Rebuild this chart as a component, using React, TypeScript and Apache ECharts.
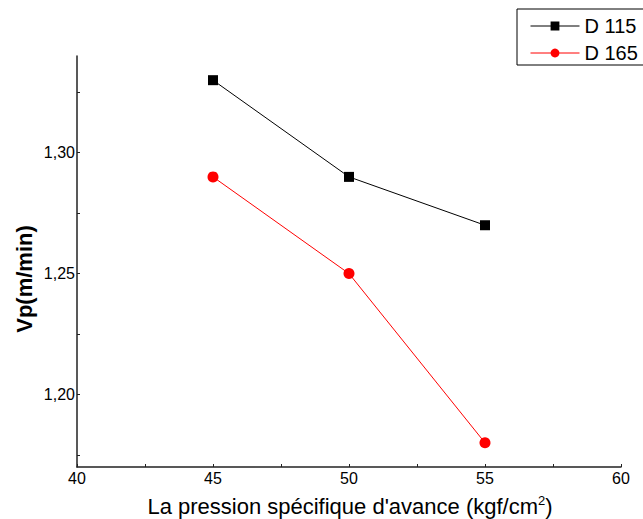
import React, { useEffect, useRef } from "react";
import * as echarts from "echarts";

const xValues = [45, 50, 55];
const d115 = [1.33, 1.29, 1.27];
const d165 = [1.29, 1.25, 1.18];
const yLabelValues = [1.2, 1.25, 1.3];
const yTickValues = [1.175, 1.2, 1.225, 1.25, 1.275, 1.3, 1.325];

const FONT = "Liberation Sans, Arial, sans-serif";

export default function App() {
  const ref = useRef<HTMLDivElement>(null);
  useEffect(() => {
    if (!ref.current) return;
    const chart = echarts.init(ref.current, null, { renderer: "svg" });
    chart.setOption({
      animation: false,
      backgroundColor: "#fff",
      grid: { left: 77, right: 22, top: 56, bottom: 52, containLabel: false },
      legend: {
        orient: "vertical",
        left: 517,
        top: 9,
        padding: [7, 10, 2, 13],
        borderColor: "#000",
        borderWidth: 1,
        backgroundColor: "#fff",
        itemWidth: 49,
        itemHeight: 11,
        itemGap: 7,
        itemTextGap: 6,
        lineStyle: { width: 1 },
        textStyle: { fontFamily: FONT, fontSize: 20, color: "#000" },
        data: ["D 115", "D 165"],
      },
      xAxis: {
        type: "value",
        min: 40,
        max: 60,
        interval: 5,
        axisLine: { show: true, lineStyle: { color: "#222", width: 1.5 } },
        axisTick: { show: true, inside: true, length: 3, lineStyle: { color: "#222" } },
        minorTick: { show: true, splitNumber: 2, length: 3, lineStyle: { color: "#222" } },
        splitLine: { show: false },
        axisLabel: { fontFamily: FONT, fontSize: 16, color: "#000", margin: 3 },
      },
      yAxis: {
        type: "value",
        min: 1.17,
        max: 1.34,
        axisLine: { show: true, lineStyle: { color: "#222", width: 1.5 } },
        axisTick: {
          show: true,
          inside: true,
          length: 3,
          customValues: yTickValues,
          lineStyle: { color: "#222" },
        },
        splitLine: { show: false },
        axisLabel: {
          fontFamily: FONT,
          fontSize: 16,
          color: "#000",
          margin: 2,
          customValues: yLabelValues,
          formatter: (v: number) => v.toFixed(2).replace(".", ","),
        },
      },
      graphic: [
        {
          type: "text",
          x: 24,
          y: 279,
          rotation: Math.PI / 2,
          style: {
            text: "Vp(m/min)",
            fontFamily: FONT,
            fontSize: 22,
            fontWeight: "bold",
            fill: "#000",
            align: "center",
            verticalAlign: "middle",
          },
        },
        {
          type: "text",
          x: 350,
          y: 506,
          style: {
            text: "{n|La pression spécifique d'avance (kgf/cm}{s|2}{n|)}",
            align: "center",
            verticalAlign: "middle",
            rich: {
              n: { fontFamily: FONT, fontSize: 22, fill: "#000", color: "#000" },
              s: {
                fontFamily: FONT,
                fontSize: 13,
                fill: "#000",
                color: "#000",
                padding: [0, 0, 12, 0],
              },
            },
          },
        },
      ],
      series: [
        {
          name: "D 115",
          type: "line",
          data: xValues.map((x, i) => [x, d115[i]]),
          symbol: "rect",
          symbolSize: 10,
          itemStyle: { color: "#000" },
          lineStyle: { color: "#000", width: 1 },
        },
        {
          name: "D 165",
          type: "line",
          data: xValues.map((x, i) => [x, d165[i]]),
          symbol: "circle",
          symbolSize: 11,
          itemStyle: { color: "#ff0000" },
          lineStyle: { color: "#ff0000", width: 1 },
        },
      ],
    });
    return () => chart.dispose();
  }, []);
  return (
    <div
      ref={ref}
      style={{ position: "absolute", left: 0, top: 0, width: 643, height: 519 }}
    />
  );
}
